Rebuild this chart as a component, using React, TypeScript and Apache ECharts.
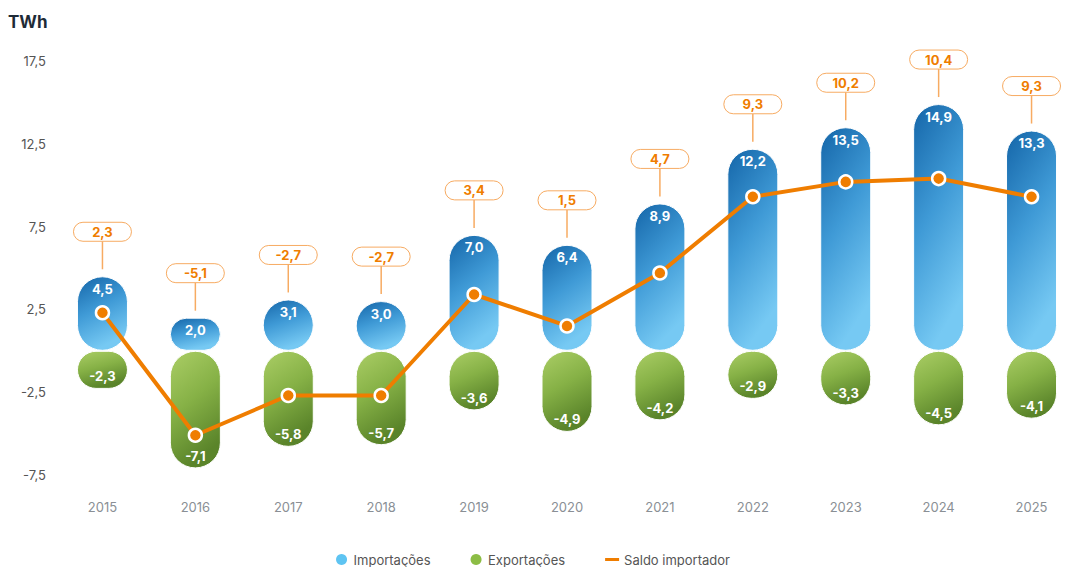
import React, { useEffect, useRef } from "react";
import * as echarts from "echarts";

const years = ["2015", "2016", "2017", "2018", "2019", "2020", "2021", "2022", "2023", "2024", "2025"];
const importacoes = [4.5, 2.0, 3.1, 3.0, 7.0, 6.4, 8.9, 12.2, 13.5, 14.9, 13.3];
const exportacoes = [-2.3, -7.1, -5.8, -5.7, -3.6, -4.9, -4.2, -2.9, -3.3, -4.5, -4.1];
const saldo = [2.3, -5.1, -2.7, -2.7, 3.4, 1.5, 4.7, 9.3, 10.2, 10.4, 9.3];

const FONT = "Inter, 'Open Sans', sans-serif";
const fmt = (v: number) => v.toFixed(1).replace(".", ",");

export default function App() {
  const ref = useRef<HTMLDivElement>(null);
  useEffect(() => {
    if (!ref.current) return;
    const chart = echarts.init(ref.current, null, { renderer: "svg" });
    const calloutData = years.map((_, i) => [i, importacoes[i], saldo[i]]);
    chart.setOption({
      animation: false,
      textStyle: { fontFamily: FONT },
      title: {
        text: "TWh",
        left: 3,
        top: 8,
        textStyle: { fontFamily: FONT, fontSize: 17, fontWeight: "bold", color: "#1e2b37" },
      },
      grid: { left: 56, top: 61, width: 1022, height: 414, outerBoundsMode: "none", containLabel: false },
      legend: {
        top: 548,
        left: "center",
        itemGap: 40,
        itemWidth: 14,
        itemHeight: 11,
        textStyle: { fontFamily: FONT, fontSize: 13, color: "#555" },
        data: [
          { name: "Importações", icon: "circle", itemStyle: { color: "#5ec4f2", borderWidth: 0 } },
          { name: "Exportações", icon: "circle", itemStyle: { color: "#8cbd45", borderWidth: 0 } },
          {
            name: "Saldo importador",
            icon: "path://M0,0 L14,0 L14,3 L0,3 Z",
            itemStyle: { color: "#ef7d00", borderWidth: 0 },
          },
        ],
      },
      xAxis: {
        type: "category",
        data: years,
        axisLine: { show: false },
        axisTick: { show: false },
        splitLine: { show: false },
        axisLabel: { margin: 25, fontSize: 13, color: "#8a8f95", fontFamily: FONT },
      },
      yAxis: {
        type: "value",
        min: -7.5,
        max: 17.5,
        interval: 5,
        axisLine: { show: false },
        axisTick: { show: false },
        splitLine: { show: false },
        axisLabel: {
          margin: 10,
          fontSize: 13,
          color: "#555",
          fontFamily: FONT,
          formatter: (v: number) => fmt(v),
        },
      },
      series: [
        {
          name: "Importações",
          type: "bar",
          data: importacoes,
          barWidth: 51,
          barGap: "-100%",
          z: 2,
          itemStyle: {
            borderRadius: 25.5,
            borderColor: "#fff",
            borderWidth: 1,
            color: new echarts.graphic.LinearGradient(0, 0, 0.35, 1, [
              { offset: 0, color: "#1465a8" },
              { offset: 0.5, color: "#3f9ad6" },
              { offset: 1, color: "#76c9f3" },
            ]),
          },
          label: {
            show: true,
            position: "insideTop",
            distance: 6,
            color: "#fff",
            fontWeight: "bold",
            fontSize: 13,
            fontFamily: FONT,
            formatter: (p: any) => fmt(p.value),
          },
        },
        {
          name: "Exportações",
          type: "bar",
          data: exportacoes,
          barWidth: 51,
          z: 2,
          itemStyle: {
            borderRadius: 25.5,
            borderColor: "#fff",
            borderWidth: 1,
            color: new echarts.graphic.LinearGradient(0, 0, 0.35, 1, [
              { offset: 0, color: "#abce66" },
              { offset: 0.5, color: "#86b146" },
              { offset: 1, color: "#5a842a" },
            ]),
          },
          label: {
            show: true,
            position: "insideBottom",
            distance: 6,
            color: "#fff",
            fontWeight: "bold",
            fontSize: 13,
            fontFamily: FONT,
            formatter: (p: any) => fmt(p.value),
          },
        },
        {
          name: "Saldo importador",
          type: "line",
          data: saldo,
          z: 5,
          symbol: "circle",
          symbolSize: 13,
          lineStyle: { color: "#ef7d00", width: 4 },
          itemStyle: { color: "#ef7d00", borderColor: "#fff", borderWidth: 2.5 },
        },
        {
          name: "callouts",
          type: "custom",
          data: calloutData,
          z: 6,
          silent: true,
          renderItem: (params: any, api: any) => {
            const i = api.value(0);
            const top = api.coord([i, api.value(1)]);
            const x = top[0];
            const y = top[1];
            const text = fmt(api.value(2));
            return {
              type: "group",
              children: [
                {
                  type: "line",
                  shape: { x1: x, y1: y - 7, x2: x, y2: y - 35 },
                  style: { stroke: "#f7ab62", lineWidth: 1.5 },
                },
                {
                  type: "rect",
                  shape: { x: x - 29, y: y - 54, width: 58, height: 19, r: 9.5 },
                  style: { fill: "#fff", stroke: "#f7ab62", lineWidth: 1 },
                },
                {
                  type: "text",
                  x: x,
                  y: y - 44.5,
                  style: {
                    text,
                    fill: "#ef7d00",
                    font: `bold 13px ${FONT}`,
                    align: "center",
                    verticalAlign: "middle",
                  },
                },
              ],
            };
          },
        },
      ],
    });
    return () => chart.dispose();
  }, []);
  return (
    <div
      ref={ref}
      style={{ position: "absolute", left: 0, top: 0, width: 1066, height: 567, background: "#fff" }}
    />
  );
}
